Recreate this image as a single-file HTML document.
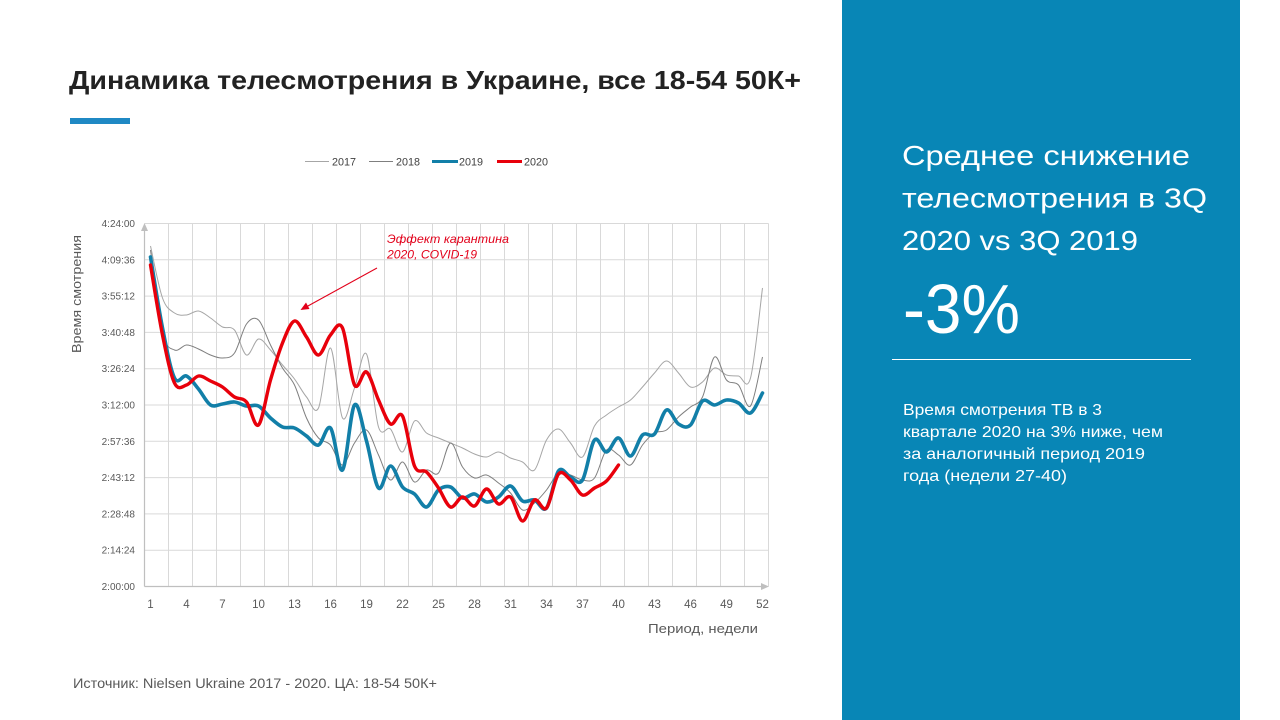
<!DOCTYPE html>
<html><head><meta charset="utf-8">
<style>
html,body{margin:0;padding:0;background:#fff;}
svg{display:block;}
text{font-family:"Liberation Sans","DejaVu Sans",sans-serif;}
</style></head>
<body>
<svg width="1280" height="720" viewBox="0 0 1280 720" xmlns="http://www.w3.org/2000/svg">
<rect x="0" y="0" width="1280" height="720" fill="#ffffff"/>
<!-- Title -->
<text x="69" y="89" font-size="26" font-weight="bold" fill="#222222" textLength="732" lengthAdjust="spacingAndGlyphs">Динамика телесмотрения в Украине, все 18-54 50К+</text>
<rect x="70" y="118" width="60" height="6" fill="#1f89c4"/>

<!-- Legend -->
<g font-size="11" fill="#404040">
<line x1="305" y1="161.5" x2="329" y2="161.5" stroke="#a6a6a6" stroke-width="1"/>
<text x="332" y="165.5" textLength="24" lengthAdjust="spacingAndGlyphs">2017</text>
<line x1="369" y1="161.5" x2="393" y2="161.5" stroke="#7f7f7f" stroke-width="1"/>
<text x="396" y="165.5" textLength="24" lengthAdjust="spacingAndGlyphs">2018</text>
<line x1="432" y1="161.5" x2="458" y2="161.5" stroke="#127fa8" stroke-width="3"/>
<text x="459" y="165.5" textLength="24" lengthAdjust="spacingAndGlyphs">2019</text>
<line x1="497" y1="161.5" x2="522" y2="161.5" stroke="#e8000b" stroke-width="3"/>
<text x="524" y="165.5" textLength="24" lengthAdjust="spacingAndGlyphs">2020</text>
</g>

<!-- Gridlines -->
<g stroke="#d9d9d9" stroke-width="1" fill="none">
<path d="M144.5,550.2H768.5M144.5,513.9H768.5M144.5,477.6H768.5M144.5,441.3H768.5M144.5,405H768.5M144.5,368.7H768.5M144.5,332.4H768.5M144.5,296.1H768.5M144.5,259.8H768.5M144.5,223.5H768.5"/>
<path d="M168.5,223.5V586.5M192.5,223.5V586.5M216.5,223.5V586.5M240.5,223.5V586.5M264.5,223.5V586.5M288.5,223.5V586.5M312.5,223.5V586.5M336.5,223.5V586.5M360.5,223.5V586.5M384.5,223.5V586.5M408.5,223.5V586.5M432.5,223.5V586.5M456.5,223.5V586.5M480.5,223.5V586.5M504.5,223.5V586.5M528.5,223.5V586.5M552.5,223.5V586.5M576.5,223.5V586.5M600.5,223.5V586.5M624.5,223.5V586.5M648.5,223.5V586.5M672.5,223.5V586.5M696.5,223.5V586.5M720.5,223.5V586.5M744.5,223.5V586.5M768.5,223.5V586.5"/>
</g>
<!-- Axes -->
<g stroke="#bfbfbf" stroke-width="1.2" fill="none">
<line x1="144.5" y1="586.5" x2="144.5" y2="229"/>
<line x1="144.5" y1="586.5" x2="763" y2="586.5"/>
</g>
<polygon points="144.5,223 141,231 148,231" fill="#bfbfbf"/>
<polygon points="769,586.5 761,583 761,590" fill="#bfbfbf"/>

<!-- Y labels -->
<g font-size="10" fill="#595959" text-anchor="end">
<text x="135" y="590">2:00:00</text>
<text x="135" y="553.7">2:14:24</text>
<text x="135" y="517.4">2:28:48</text>
<text x="135" y="481.1">2:43:12</text>
<text x="135" y="444.8">2:57:36</text>
<text x="135" y="408.5">3:12:00</text>
<text x="135" y="372.2">3:26:24</text>
<text x="135" y="335.9">3:40:48</text>
<text x="135" y="299.6">3:55:12</text>
<text x="135" y="263.3">4:09:36</text>
<text x="135" y="227">4:24:00</text>
</g>
<text transform="translate(81,294) rotate(-90)" font-size="13" fill="#595959" text-anchor="middle" textLength="118" lengthAdjust="spacingAndGlyphs">Время смотрения</text>

<!-- X labels -->
<g font-size="11.5" fill="#595959" text-anchor="middle">
<text x="150.5" y="608">1</text>
<text x="186.5" y="608">4</text>
<text x="222.5" y="608">7</text>
<text x="258.5" y="608">10</text>
<text x="294.5" y="608">13</text>
<text x="330.5" y="608">16</text>
<text x="366.5" y="608">19</text>
<text x="402.5" y="608">22</text>
<text x="438.5" y="608">25</text>
<text x="474.5" y="608">28</text>
<text x="510.5" y="608">31</text>
<text x="546.5" y="608">34</text>
<text x="582.5" y="608">37</text>
<text x="618.5" y="608">40</text>
<text x="654.5" y="608">43</text>
<text x="690.5" y="608">46</text>
<text x="726.5" y="608">49</text>
<text x="762.5" y="608">52</text>
</g>
<text x="648" y="633" font-size="13" fill="#595959" textLength="110" lengthAdjust="spacingAndGlyphs">Период, недели</text>

<!-- Series -->
<polyline class="sm" fill="none" stroke="#a6a6a6" stroke-width="1" stroke-linejoin="round" points="150.5,246 162.5,298 174.5,313 186.5,315 198.5,311 210.5,318 222.5,327 234.5,330 246.5,355 258.5,339 270.5,350 282.5,365 294.5,379 306.5,397 318.5,408 330.5,348 342.5,418 354.5,388 366.5,354 378.5,427 390.5,429 402.5,452 414.5,421 426.5,433 438.5,438 450.5,443 462.5,448 474.5,454 486.5,457 498.5,452 510.5,458 522.5,462 534.5,470 546.5,440 558.5,429 570.5,443 582.5,457 594.5,426 606.5,415 618.5,407 630.5,400 642.5,387 654.5,373 666.5,361 678.5,373 690.5,387 702.5,382 714.5,368 726.5,375 738.5,376 750.5,378 762.5,288"/>
<polyline class="sm" fill="none" stroke="#7f7f7f" stroke-width="1" stroke-linejoin="round" points="150.5,250 162.5,333 174.5,350 186.5,345 198.5,349 210.5,355 222.5,358 234.5,353 246.5,324 258.5,320 270.5,345 282.5,368 294.5,385 306.5,418 318.5,438 330.5,445 342.5,465 354.5,443 366.5,430 378.5,455 390.5,480 402.5,462 414.5,482 426.5,470 438.5,473 450.5,443 462.5,467 474.5,478 486.5,475 498.5,483 510.5,493 522.5,510 534.5,503 546.5,490 558.5,473 570.5,475 582.5,480 594.5,478 606.5,450 618.5,455 630.5,465 642.5,445 654.5,433 666.5,430 678.5,417 690.5,407 702.5,397 714.5,357 726.5,380 738.5,385 750.5,406 762.5,357"/>
<polyline class="sm" fill="none" stroke="#127fa8" stroke-width="3.6" stroke-linejoin="round" stroke-linecap="round" points="150.5,257 162.5,328 174.5,378 186.5,376 198.5,389 210.5,405 222.5,404 234.5,402 246.5,406 258.5,406 270.5,418 282.5,427 294.5,428 306.5,436 318.5,445 330.5,428 342.5,470 354.5,405 366.5,441 378.5,488 390.5,466 402.5,487 414.5,494 426.5,507 438.5,490 450.5,487 462.5,498 474.5,494 486.5,502 498.5,497 510.5,486 522.5,501 534.5,500 546.5,508 558.5,471 570.5,477 582.5,480 594.5,440 606.5,452 618.5,438 630.5,456 642.5,435 654.5,434 666.5,410 678.5,424 690.5,425 702.5,401 714.5,405 726.5,400 738.5,403 750.5,413 762.5,393"/>
<polyline class="sm" fill="none" stroke="#e8000b" stroke-width="3.4" stroke-linejoin="round" stroke-linecap="round" points="150.5,265 162.5,335 174.5,383 186.5,385 198.5,376 210.5,381 222.5,387 234.5,397 246.5,402 258.5,425 270.5,380 282.5,343 294.5,321 306.5,337 318.5,355 330.5,335 342.5,328 354.5,385 366.5,372 378.5,400 390.5,424 402.5,416 414.5,466 426.5,472 438.5,488 450.5,507 462.5,497 474.5,506 486.5,489 498.5,504 510.5,497 522.5,521 534.5,500 546.5,508 558.5,474 570.5,480 582.5,495 594.5,488 606.5,481 618.5,465"/>

<!-- Annotation -->
<g font-size="12" font-style="italic" fill="#e2001a">
<text x="387" y="243" textLength="122" lengthAdjust="spacingAndGlyphs">Эффект карантина</text>
<text x="387" y="258.5" textLength="90" lengthAdjust="spacingAndGlyphs">2020, COVID-19</text>
</g>
<line x1="377" y1="268" x2="307" y2="306.5" stroke="#e2001a" stroke-width="1"/>
<polygon points="300.5,310 306,302.5 309.5,309" fill="#e2001a"/>

<!-- Source -->
<text x="73" y="688" font-size="13.5" fill="#595959" textLength="364" lengthAdjust="spacingAndGlyphs">Источник: Nielsen Ukraine 2017 - 2020. ЦА: 18-54 50К+</text>

<!-- Right panel -->
<rect x="842" y="0" width="398" height="720" fill="#0886b6"/>
<g fill="#ffffff">
<text x="902" y="165" font-size="28" textLength="288" lengthAdjust="spacingAndGlyphs">Среднее снижение</text>
<text x="902" y="207.5" font-size="28" textLength="305" lengthAdjust="spacingAndGlyphs">телесмотрения в 3Q</text>
<text x="902" y="250" font-size="28" textLength="236" lengthAdjust="spacingAndGlyphs">2020 vs 3Q 2019</text>
<text x="903" y="333" font-size="70" textLength="117" lengthAdjust="spacingAndGlyphs">-3%</text>
<text x="903" y="415" font-size="16" textLength="199" lengthAdjust="spacingAndGlyphs">Время смотрения ТВ в 3</text>
<text x="903" y="437" font-size="16" textLength="260" lengthAdjust="spacingAndGlyphs">квартале 2020 на 3% ниже, чем</text>
<text x="903" y="459" font-size="16" textLength="242" lengthAdjust="spacingAndGlyphs">за аналогичный период 2019</text>
<text x="903" y="481" font-size="16" textLength="164" lengthAdjust="spacingAndGlyphs">года (недели 27-40)</text>
</g>
<line x1="892" y1="359.5" x2="1191" y2="359.5" stroke="#ffffff" stroke-width="1"/>
</svg>
<script>
(function(){
var ps=document.querySelectorAll('polyline.sm');
for(var i=0;i<ps.length;i++){
 var pl=ps[i];
 var pts=pl.getAttribute('points').trim().split(/\s+/).map(function(s){var a=s.split(',');return [+a[0],+a[1]];});
 var d='M'+pts[0][0]+','+pts[0][1];
 for(var j=0;j<pts.length-1;j++){
  var p0=pts[j>0?j-1:j],p1=pts[j],p2=pts[j+1],p3=pts[j+2<pts.length?j+2:j+1];
  var c1x=p1[0]+(p2[0]-p0[0])/6,c1y=p1[1]+(p2[1]-p0[1])/6,c2x=p2[0]-(p3[0]-p1[0])/6,c2y=p2[1]-(p3[1]-p1[1])/6;
  d+=' C'+c1x.toFixed(2)+','+c1y.toFixed(2)+' '+c2x.toFixed(2)+','+c2y.toFixed(2)+' '+p2[0]+','+p2[1];
 }
 var p=document.createElementNS('http://www.w3.org/2000/svg','path');
 p.setAttribute('d',d);
 ['stroke','stroke-width','fill','stroke-linejoin','stroke-linecap'].forEach(function(a){var v=pl.getAttribute(a); if(v) p.setAttribute(a,v);});
 pl.parentNode.replaceChild(p,pl);
}
})();
</script>
</body></html>
